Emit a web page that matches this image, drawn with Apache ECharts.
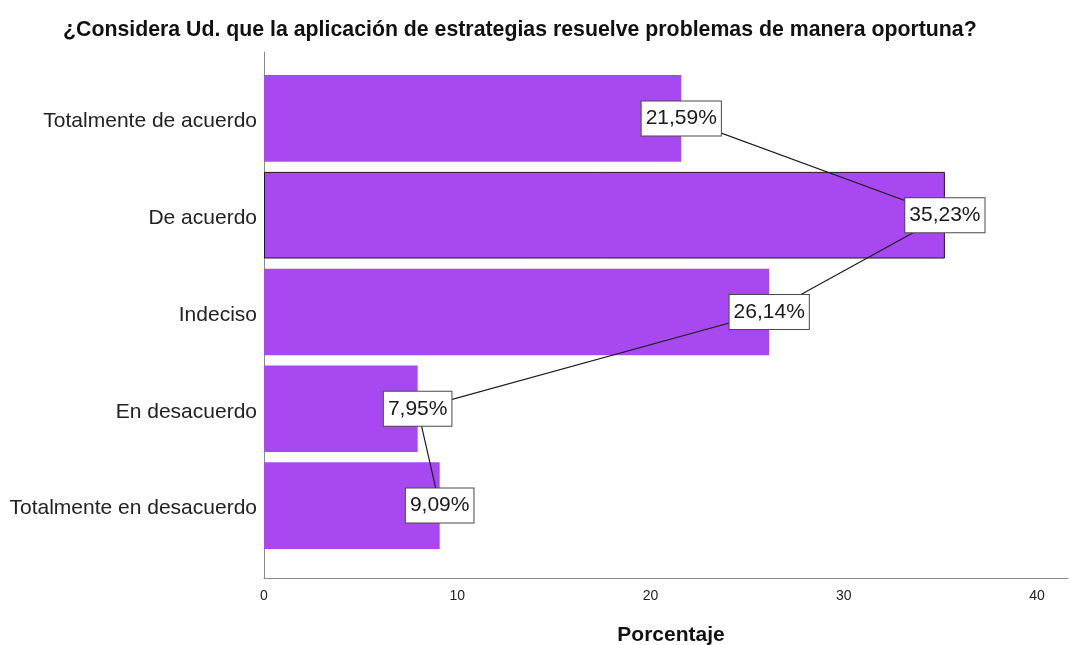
<!DOCTYPE html>
<html>
<head>
<meta charset="utf-8">
<script src="https://cdn.jsdelivr.net/npm/echarts@6/dist/echarts.min.js"></script>
<style>
html,body{margin:0;padding:0;background:#fff;}
#chart{width:1070px;height:645px;}
</style>
</head>
<body>
<div id="chart"></div>
<script>
const titleText = '¿Considera Ud. que la aplicación de estrategias resuelve problemas de manera oportuna?';
const categories = ['Totalmente de acuerdo', 'De acuerdo', 'Indeciso', 'En desacuerdo', 'Totalmente en desacuerdo'];
const percentages = [21.59, 35.23, 26.14, 7.95, 9.09];
const xTicks = [0, 10, 20, 30, 40];
const axisName = 'Porcentaje';
const highlighted = 'De acuerdo';

const FONT = 'Liberation Sans, Arial, sans-serif';
const BAR_COLOR = '#a848f0';
const X_MAX = 41.6;

const chart = echarts.init(document.getElementById('chart'), null, {renderer: 'canvas'});

const barData = percentages.map((v, i) => {
  const item = {value: v};
  if (categories[i] === highlighted) {
    item.itemStyle = {borderColor: '#1a1a1a', borderWidth: 1};
  }
  return item;
});

const option = {
  backgroundColor: '#ffffff',
  animation: false,
  title: {
    text: titleText,
    left: 58,
    top: 15,
    textStyle: {fontFamily: FONT, fontSize: 21.3, fontWeight: 'bold', color: '#111'}
  },
  grid: [
    {left: 264, right: 2, top: 52, bottom: 67, containLabel: false, outerBoundsMode: 'none'},
    {left: 264, right: 2, top: 70, bottom: 91, containLabel: false, outerBoundsMode: 'none'}
  ],
  xAxis: [
    {
      gridIndex: 0, type: 'value', min: 0, max: X_MAX, interval: 10,
      axisLine: {show: true, lineStyle: {color: '#8a8a8a', width: 1}},
      axisTick: {show: false},
      splitLine: {show: false},
      axisLabel: {
        fontFamily: FONT, fontSize: 14, color: '#222', margin: 11,
        formatter: v => (xTicks.indexOf(v) >= 0 ? String(v) : ''),
        showMaxLabel: false
      },
      name: axisName,
      nameLocation: 'middle',
      nameGap: 47,
      nameTextStyle: {fontFamily: FONT, fontSize: 21, fontWeight: 'bold', color: '#111', padding: [0, 0, 0, 10]}
    },
    {
      gridIndex: 1, type: 'value', min: 0, max: X_MAX, show: false
    }
  ],
  yAxis: [
    {
      gridIndex: 0, type: 'value', min: 0, max: 1,
      axisLine: {show: true, lineStyle: {color: '#8a8a8a', width: 1}},
      axisTick: {show: false},
      axisLabel: {show: false},
      splitLine: {show: false}
    },
    {
      gridIndex: 1, type: 'category', inverse: true, data: categories,
      axisLine: {show: false},
      axisTick: {show: false},
      splitLine: {show: false},
      axisLabel: {
        margin: 7,
        formatter: v => '{c|' + v + '}',
        rich: {c: {fontFamily: FONT, fontSize: 21, color: '#222', padding: [6, 0, 0, 0]}}
      }
    }
  ],
  series: [
    {
      type: 'bar',
      xAxisIndex: 1, yAxisIndex: 1,
      data: barData,
      barCategoryGap: '10.5%',
      itemStyle: {color: BAR_COLOR},
      silent: true,
      z: 2
    },
    {
      type: 'line',
      xAxisIndex: 1, yAxisIndex: 1,
      data: percentages,
      symbol: 'circle',
      symbolSize: 1,
      showSymbol: true,
      itemStyle: {color: '#222'},
      lineStyle: {color: '#1e1e1e', width: 1.2},
      silent: true,
      z: 3,
      label: {
        show: true,
        position: 'inside',
        formatter: p => p.value.toFixed(2).replace('.', ',') + '%',
        fontFamily: FONT, fontSize: 21, color: '#1a1a1a',
        lineHeight: 21,
        backgroundColor: '#ffffff',
        borderColor: '#4a4a4a', borderWidth: 1,
        padding: [8, 4, 5, 4]
      }
    }
  ]
};

chart.setOption(option);
</script>
</body>
</html>
